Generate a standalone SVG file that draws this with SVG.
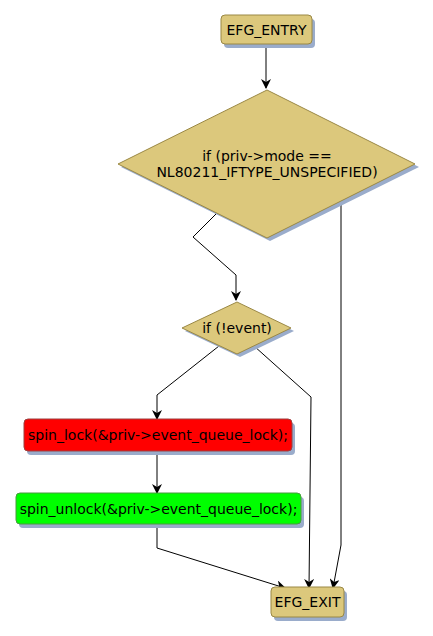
<svg xmlns="http://www.w3.org/2000/svg" width="433" height="636" viewBox="0 0 433 636">
<defs>
<marker id="arr" markerWidth="10" markerHeight="10" refX="9" refY="5" orient="auto" markerUnits="userSpaceOnUse">
<path d="M0,0 L10,5 L0,10 L3,5 Z" fill="#000"/>
</marker>
<style>
.n{fill:#dcc87c;stroke:#9a8845;stroke-width:1}
.sh{fill:#9aaccb}
.t{font-family:"DejaVu Sans",sans-serif;font-size:14px;fill:#000;text-anchor:middle}
.c{fill:none;stroke:#000;stroke-width:1}
</style>
</defs>
<rect width="433" height="636" fill="#fff"/>
<g id="connectors">
<path class="c" d="M266,44 L266,88" marker-end="url(#arr)"/>
<path class="c" d="M217,213 L193,237 L236,275 L236,300" marker-end="url(#arr)"/>
<path class="c" d="M341,200 L341,545 L333,588" marker-end="url(#arr)"/>
<path class="c" d="M219,346 L157,395 L157,419" marker-end="url(#arr)"/>
<path class="c" d="M254,346 L311,397 L309,588" marker-end="url(#arr)"/>
<path class="c" d="M157,451 L157,493" marker-end="url(#arr)"/>
<path class="c" d="M157,524 L157,548 L285,588" marker-end="url(#arr)"/>
</g>
<g id="entry">
<rect class="sh" x="224" y="19" width="91" height="29" rx="4"/>
<rect class="n" x="221" y="15" width="91" height="29" rx="4"/>
<text class="t" x="266.5" y="34.5">EFG_ENTRY</text>
</g>
<g id="cond1">
<polygon class="sh" points="270,93 419,167 270,241 121,167"/>
<polygon class="n" points="267,90 415,164 267,238 118,164"/>
<text class="t" x="267" y="161">if (priv-&gt;mode ==</text>
<text class="t" x="267" y="177">NL80211_IFTYPE_UNSPECIFIED)</text>
</g>
<g id="cond2">
<polygon class="sh" points="240,305 294,331 240,357 185,331"/>
<polygon class="n" points="237,302 291,328 237,354 182,328"/>
<text class="t" x="237" y="333">if (!event)</text>
</g>
<g id="lock">
<rect class="sh" x="27" y="423" width="268" height="32" rx="4"/>
<rect x="24" y="419" width="268" height="32" rx="4" fill="#ff0000" stroke="#9a4040"/>
<text class="t" x="158" y="440">spin_lock(&amp;priv-&gt;event_queue_lock);</text>
</g>
<g id="unlock">
<rect class="sh" x="19" y="497" width="285" height="31" rx="4"/>
<rect x="16" y="493" width="285" height="31" rx="4" fill="#00ff00" stroke="#4a9a40"/>
<text class="t" x="158.5" y="513.5">spin_unlock(&amp;priv-&gt;event_queue_lock);</text>
</g>
<g id="exit">
<rect class="sh" x="274" y="591" width="73" height="30" rx="4"/>
<rect class="n" x="271" y="587" width="73" height="30" rx="4"/>
<text class="t" x="307.5" y="607">EFG_EXIT</text>
</g>
</svg>
